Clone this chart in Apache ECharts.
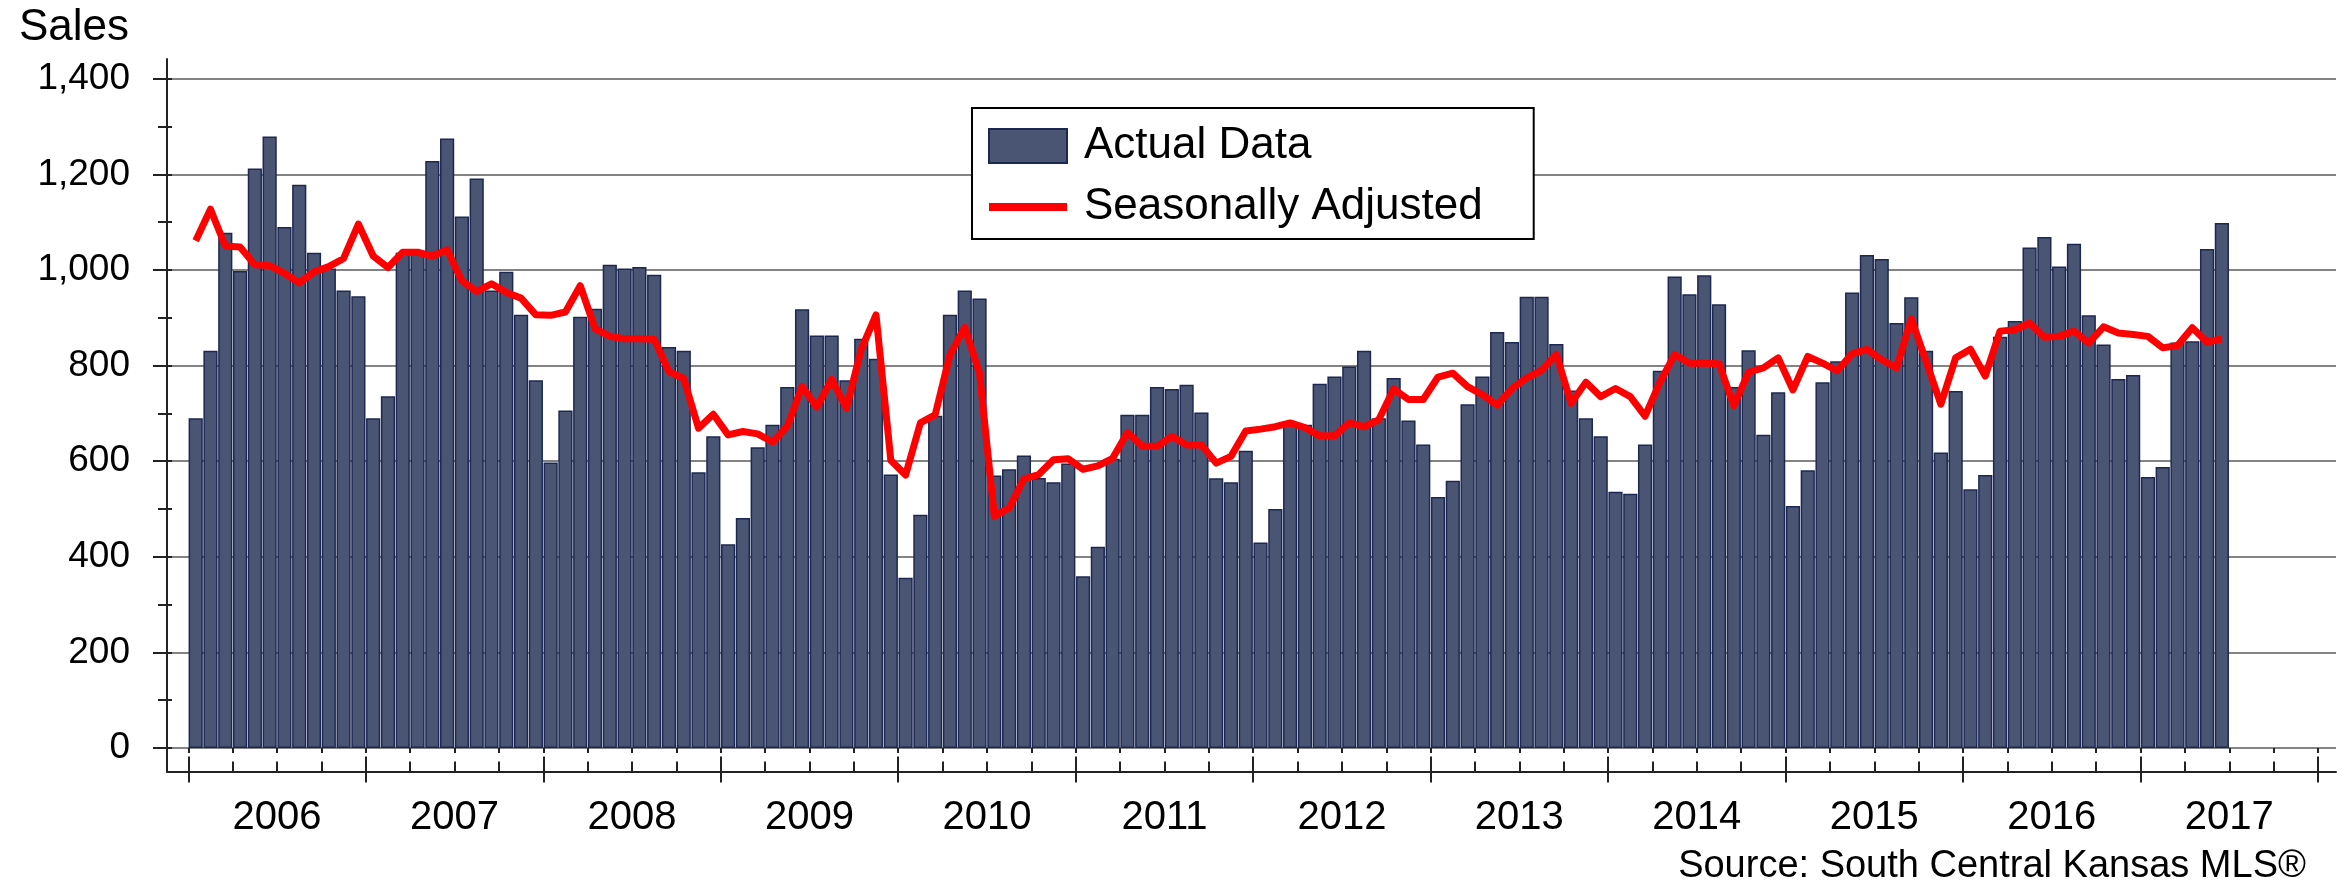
<!DOCTYPE html>
<html>
<head>
<meta charset="utf-8">
<script src="https://cdn.jsdelivr.net/npm/echarts@6/dist/echarts.min.js"></script>
<style>
  html, body { margin: 0; padding: 0; background: #ffffff; }
  #chart { width: 2351px; height: 882px; }
</style>
</head>
<body>
<div id="chart"></div>
<script>
// ---- data ----
const years = ['2006','2007','2008','2009','2010','2011','2012','2013','2014','2015','2016','2017'];
const monthNames = ['01','02','03','04','05','06','07','08','09','10','11','12'];

const actualData = [
  690, 831, 1078, 998, 1212, 1279, 1090, 1178, 1036, 1003, 957, 945,
  690, 736, 1036, 1040, 1228, 1275, 1112, 1191, 957, 996, 906, 769,
  597, 706, 902, 919, 1011, 1003, 1006, 990, 839, 831, 577, 652,
  426, 481, 629, 676, 755, 918, 863, 863, 769, 856, 814, 572,
  356, 488, 695, 906, 957, 940, 570, 583, 612, 565, 556, 595,
  359, 421, 605, 697, 697, 755, 751, 760, 702, 564, 556, 622,
  430, 500, 678, 676, 762, 777, 798, 831, 690, 774, 685, 635,
  525, 559, 719, 777, 870, 849, 944, 944, 845, 748, 690, 652,
  536, 532, 635, 789, 986, 949, 989, 928, 755, 832, 655, 744,
  506, 581, 765, 809, 953, 1031, 1023, 889, 943, 831, 618, 747,
  541, 571, 860, 893, 1047, 1069, 1007, 1055, 905, 844, 772, 780,
  567, 588, 848, 851, 1044, 1098
];

const seasonallyAdjusted = [
  1061, 1127, 1050, 1048, 1011, 1009, 993, 973, 996, 1007, 1024, 1096,
  1029, 1005, 1037, 1037, 1029, 1042, 977, 955, 971, 953, 941, 906,
  905, 912, 967, 877, 861, 856, 856, 855, 787, 773, 669, 698,
  655, 662, 657, 640, 673, 756, 713, 771, 711, 834, 906, 602,
  571, 680, 697, 823, 880, 784, 485, 502, 563, 572, 603, 605,
  583, 590, 606, 660, 631, 631, 652, 634, 634, 596, 610, 663,
  667, 672, 680, 670, 653, 653, 680, 672, 687, 751, 729, 729,
  776, 784, 756, 739, 717, 752, 774, 790, 823, 721, 765, 735,
  752, 735, 694, 765, 823, 805, 805, 804, 716, 786, 795, 816,
  749, 819, 805, 789, 825, 834, 812, 795, 898, 809, 719, 816,
  834, 778, 872, 875, 889, 859, 861, 872, 847, 881, 868, 865,
  861, 837, 842, 879, 849, 856
];

const yTicks = { min: 0, max: 1400, interval: 200 };

// month categories (one per month of each year shown on the axis)
const months = [];
years.forEach(y => monthNames.forEach(m => months.push(y + '-' + m)));

// ---- layout / style ----
const FONT = 'Liberation Sans, Arial, Helvetica, sans-serif';
const AXIS_COLOR = '#222222';
const plotTop = 78.7, plotBottom = 882 - 748;   // grid for value range
const axisBottom = 882 - 771.6;                  // where the x axis line sits
const axisOffset = 771.6 - 748;

const chart = echarts.init(document.getElementById('chart'), null, { renderer: 'canvas' });

const option = {
  animation: false,
  backgroundColor: '#ffffff',
  title: [
    { text: 'Sales', left: 14, top: 1,
      textStyle: { fontFamily: FONT, fontSize: 44, fontWeight: 'normal', color: '#000' } },
    { text: 'Source: South Central Kansas MLS\u00AE', right: 40, top: 843,
      textStyle: { fontFamily: FONT, fontSize: 38, fontWeight: 'normal', color: '#000' } }
  ],
  legend: {
    orient: 'vertical',
    left: 972, top: 108,
    padding: [16, 51, 10, 13],
    itemWidth: 78, itemHeight: 34, itemGap: 17,
    borderColor: '#000', borderWidth: 2, backgroundColor: '#ffffff',
    textStyle: { fontFamily: FONT, fontSize: 44, color: '#000', padding: [0, 0, 0, 12] },
    data: [
      { name: 'Actual Data', icon: 'rect' },
      { name: 'Seasonally Adjusted', itemStyle: { opacity: 0 },
        lineStyle: { color: '#ff0000', width: 8, opacity: 1 } }
    ]
  },
  grid: [
    // 0: y labels, ticks and gridlines
    { left: 167, right: 15, top: plotTop, bottom: plotBottom },
    // 1: bars and line
    { left: 188.3, right: 33, top: plotTop, bottom: plotBottom },
    // 2: axis lines frame
    { left: 167, right: 15, top: 59, bottom: axisBottom }
  ],
  xAxis: [
    { gridIndex: 0, type: 'value', min: 0, max: 1, show: false },
    // month axis carrying the data, quarterly ticks outward
    { gridIndex: 1, type: 'category', data: months, boundaryGap: true, position: 'bottom',
      offset: axisOffset,
      axisLine: { show: false },
      axisTick: { show: true, inside: false, length: 5,
        interval: function (index) { return index % 3 === 0; },
        lineStyle: { color: AXIS_COLOR, width: 2 } },
      axisLabel: { show: false }, splitLine: { show: false } },
    // month axis, quarterly ticks inward
    { gridIndex: 1, type: 'category', data: months, boundaryGap: true, position: 'bottom',
      offset: axisOffset,
      axisLine: { show: false },
      axisTick: { show: true, inside: true, length: 10,
        interval: function (index) { return index % 3 === 0; },
        lineStyle: { color: AXIS_COLOR, width: 2 } },
      axisLabel: { show: false }, splitLine: { show: false } },
    // year axis with labels, outward ticks
    { gridIndex: 1, type: 'category', data: years, boundaryGap: true, position: 'bottom',
      offset: axisOffset,
      axisLine: { show: false },
      axisTick: { show: true, inside: false, length: 11, interval: 0,
        lineStyle: { color: AXIS_COLOR, width: 2 } },
      axisLabel: { show: true, interval: 0, margin: 26, fontFamily: FONT, fontSize: 40, color: '#000' },
      splitLine: { show: false } },
    // year axis, inward ticks
    { gridIndex: 1, type: 'category', data: years, boundaryGap: true, position: 'bottom',
      offset: axisOffset,
      axisLine: { show: false },
      axisTick: { show: true, inside: true, length: 15, interval: 0,
        lineStyle: { color: AXIS_COLOR, width: 2 } },
      axisLabel: { show: false }, splitLine: { show: false } },
    // frame x axis line
    { gridIndex: 2, type: 'value', min: 0, max: 1, position: 'bottom',
      axisLine: { show: true, onZero: false, lineStyle: { color: AXIS_COLOR, width: 2 } },
      axisTick: { show: false }, axisLabel: { show: false }, splitLine: { show: false } }
  ],
  yAxis: [
    { gridIndex: 0, type: 'value', min: yTicks.min, max: yTicks.max, interval: yTicks.interval,
      position: 'left',
      axisLine: { show: false },
      axisTick: { show: true, length: 14, lineStyle: { color: AXIS_COLOR, width: 2 } },
      minorTick: { show: true, splitNumber: 2, length: 9, lineStyle: { color: AXIS_COLOR, width: 2 } },
      splitLine: { show: true, lineStyle: { color: '#5a5a5a', width: 1.6 } },
      axisLabel: { show: true, margin: 37, fontFamily: FONT, fontSize: 37, color: '#000',
        formatter: function (v) { return v.toLocaleString('en-US'); } } },
    { gridIndex: 0, type: 'value', min: yTicks.min, max: yTicks.max, interval: yTicks.interval / 2,
      position: 'left',
      axisLine: { show: false },
      axisTick: { show: true, inside: true, length: 5, lineStyle: { color: AXIS_COLOR, width: 2 } },
      splitLine: { show: false }, axisLabel: { show: false } },
    { gridIndex: 1, type: 'value', min: yTicks.min, max: yTicks.max, show: false },
    { gridIndex: 2, type: 'value', min: 0, max: 1, position: 'left',
      axisLine: { show: true, onZero: false, lineStyle: { color: AXIS_COLOR, width: 2 } },
      axisTick: { show: false }, axisLabel: { show: false }, splitLine: { show: false } }
  ],
  series: [
    {
      name: 'Actual Data', type: 'bar', xAxisIndex: 1, yAxisIndex: 2,
      data: actualData,
      barCategoryGap: '4%',
      itemStyle: { color: '#4a5574', borderColor: '#1c2852', borderWidth: 1.5 },
      z: 2
    },
    {
      name: 'Seasonally Adjusted', type: 'line', xAxisIndex: 1, yAxisIndex: 2,
      data: seasonallyAdjusted,
      symbol: 'none', smooth: false,
      lineStyle: { color: '#ff0000', width: 7, join: 'round' },
      itemStyle: { color: '#ff0000' },
      z: 3
    }
  ]
};

chart.setOption(option);
</script>
</body>
</html>
